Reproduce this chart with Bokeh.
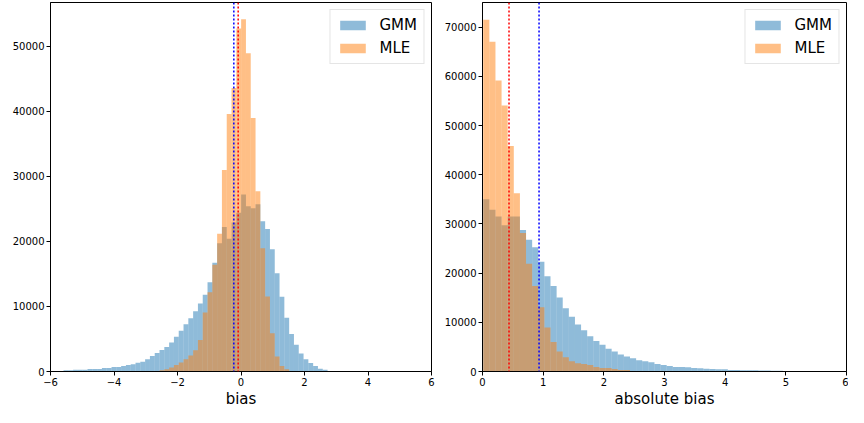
import numpy as np
from bokeh.plotting import figure
from bokeh.layouts import row
from bokeh.models import Span, FixedTicker, Legend, LegendItem, Range1d
from bokeh.embed import file_html
from bokeh.resources import INLINE

# ---------------- data ----------------
# left panel: signed bias histograms (shared bins)
bias_bin_start = -5.59
bias_bin_width = 0.1512
gmm_bias_counts = [200, 200, 250, 250, 250, 400, 400, 400, 550, 550,
                   700, 700, 850, 1000, 1100, 1350, 1500, 1900, 2400, 2850,
                   3300, 3750, 4450, 5350, 6250, 7250, 8200, 9250, 10450, 11800,
                   13700, 16700, 19700, 22200, 20400, 22900, 24400, 27200, 25400, 25100,
                   25700, 23100, 21900, 18800, 15100, 11500, 8250, 5750, 4100, 2750,
                   1900, 1300, 850, 420, 250]
mle_bias_counts = [0] * 20 + [200, 350, 600, 1000, 1400, 1900, 2450, 3250, 4850, 9050,
                              12170, 16400, 21170, 30960, 39570, 43570, 52720, 54110, 48920, 38970,
                              27700, 18940, 11520, 5890, 2320, 850, 350] + [0] * 8
bias_mean_gmm = -0.226
bias_mean_mle = -0.089

# right panel: absolute bias histograms (shared bins)
abs_bin_start = 0.012
abs_bin_width = 0.1008
gmm_abs_counts = [35030, 32880, 31500, 29740, 31500, 31500, 28760, 26800, 25230, 22290,
                  19350, 17390, 15030, 12880, 11110, 9540, 8370, 7190, 6210, 5420,
                  4640, 4050, 3460, 3070, 2680, 2290, 2090, 1900, 1500, 1310,
                  1110, 920, 900, 850, 720, 680, 560, 520, 480, 440,
                  300, 280, 260, 250, 230, 210, 190, 170, 150]
mle_abs_counts = [71500, 67000, 59150, 54050, 45820, 36210, 28170, 21900, 17390, 13070,
                  8950, 6010, 4050, 2880, 2090, 1700, 1500, 1310, 920, 720,
                  720, 520, 330, 330] + [0] * 25
abs_mean_gmm = 0.932
abs_mean_mle = 0.437

bias_xticks = [-6, -4, -2, 0, 2, 4, 6]
bias_yticks = [0, 10000, 20000, 30000, 40000, 50000]
abs_xticks = [0, 1, 2, 3, 4, 5, 6]
abs_yticks = [0, 10000, 20000, 30000, 40000, 50000, 60000, 70000]

series_names = ["GMM", "MLE"]
series_colors = ["#1f77b4", "#ff7f0e"]
FONT = "DejaVu Sans"


def make_panel(fw, bl, br, x_range, y_range, xticks, yticks, xlabel,
               bin_start, bin_width, gmm, mle, mean_gmm, mean_mle, line_order):
    p = figure(frame_width=fw, frame_height=369, x_range=Range1d(*x_range), y_range=Range1d(*y_range),
               output_backend="svg", toolbar_location=None,
               min_border_left=bl, min_border_right=br,
               min_border_top=2, min_border_bottom=30)
    p.grid.visible = False
    n = len(gmm)
    edges = bin_start + bin_width * np.arange(n + 1)
    rends = []
    for vals, col in zip([gmm, mle], series_colors):
        r = p.quad(left=edges[:-1], right=edges[1:], bottom=0, top=vals,
                   fill_color=col, fill_alpha=0.5, line_color=None)
        rends.append(r)
    spans = {"GMM": Span(location=mean_gmm, dimension="height", line_color="#0000ff",
                         line_width=1.5, line_dash="2 2"),
             "MLE": Span(location=mean_mle, dimension="height", line_color="#ff0000",
                         line_width=1.5, line_dash="2 2")}
    for key in line_order:
        p.add_layout(spans[key])

    p.xaxis.ticker = FixedTicker(ticks=xticks)
    p.yaxis.ticker = FixedTicker(ticks=yticks)
    p.xaxis.major_label_overrides = {t: ("\u2212" + str(abs(t)) if t < 0 else str(t)) for t in xticks}
    p.xaxis.axis_label = xlabel
    p.xaxis.axis_label_text_font_size = "15px"
    p.xaxis.axis_label_text_font_style = "normal"
    p.xaxis.axis_label_text_font = FONT
    p.xaxis.axis_label_text_color = "black"
    p.xaxis.axis_label_standoff = 1
    p.axis.major_label_text_font = FONT
    p.axis.major_label_text_font_size = "10px"
    p.axis.major_label_text_color = "black"
    p.axis.major_label_standoff = 2
    p.axis.major_tick_in = 0
    p.axis.major_tick_out = 4
    p.axis.minor_tick_in = 0
    p.axis.minor_tick_out = 0
    p.axis.axis_line_color = "black"
    p.axis.major_tick_line_color = "black"
    p.outline_line_color = "black"
    p.outline_line_alpha = 1
    p.outline_line_width = 1

    legend = Legend(items=[LegendItem(label=nm, renderers=[r]) for nm, r in zip(series_names, rends)],
                    location="top_right")
    legend.label_text_font = FONT
    legend.label_text_font_size = "15px"
    legend.label_text_color = "black"
    legend.glyph_width = 32
    legend.glyph_height = 12
    legend.label_height = 17
    legend.label_standoff = 11
    legend.spacing = 5
    legend.padding = 6
    legend.margin = 7
    legend.border_line_color = "#cccccc"
    legend.border_line_width = 1
    legend.background_fill_alpha = 0.8
    p.add_layout(legend)
    return p


p1 = make_panel(381, 50, 9, (-6, 6), (0, 56700), bias_xticks, bias_yticks, "bias",
                bias_bin_start, bias_bin_width, gmm_bias_counts, mle_bias_counts,
                bias_mean_gmm, bias_mean_mle, ["MLE", "GMM"])
p2 = make_panel(364, 42, 2, (0, 6), (0, 75000), abs_xticks, abs_yticks, "absolute bias",
                abs_bin_start, abs_bin_width, gmm_abs_counts, mle_abs_counts,
                abs_mean_gmm, abs_mean_mle, ["MLE", "GMM"])

layout = row(p1, p2)
open("out.html", "w").write(file_html(layout, INLINE))
